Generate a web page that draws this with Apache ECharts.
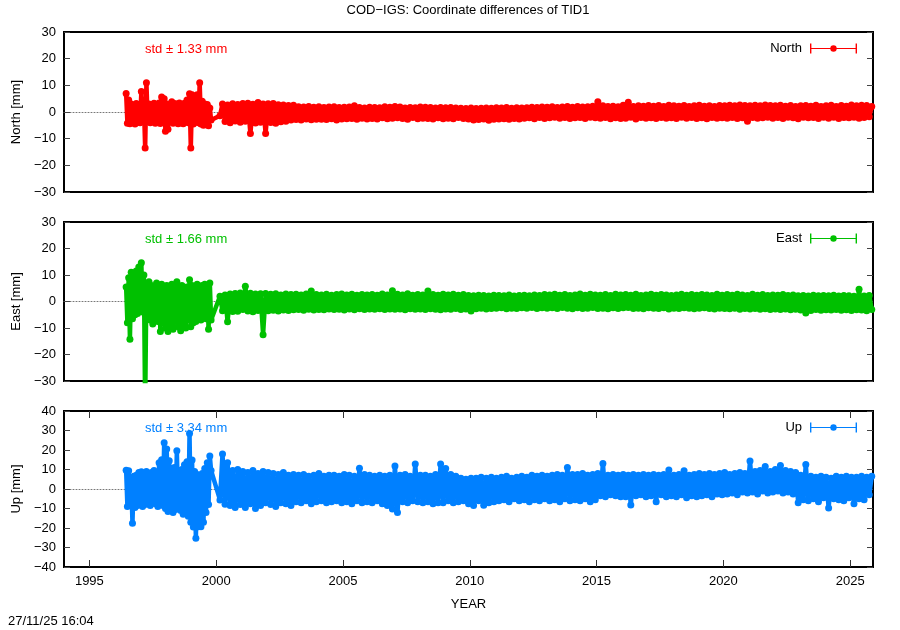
<!DOCTYPE html>
<html><head><meta charset="utf-8">
<script src="https://cdn.jsdelivr.net/npm/echarts@6/dist/echarts.min.js"></script>
<style>html,body{margin:0;padding:0;background:#fff}#c{width:900px;height:630px}</style>
</head><body><div id="c"></div><script>
// sampling epochs of the plotted series (decimal years)
const seg1Start = 1996.45, seg1Step = 0.05;   // 1996.45 .. 1999.80
const seg2Start = 2000.15, seg2Step = 0.1;    // 2000.15 .. 2025.85

const xTicks = [1995, 2000, 2005, 2010, 2015, 2020, 2025];
const yTicksNE = [-30, -20, -10, 0, 10, 20, 30];
const yTicksUp = [-40, -30, -20, -10, 0, 10, 20, 30, 40];
const seriesNames = ['North', 'East', 'Up'];
const stdTexts = ['std \u00b1 1.33 mm', 'std \u00b1 1.66 mm', 'std \u00b1 3.34 mm'];

const northEarly = [6.9,-4.2,4.5,-4.4,3.0,-3.5,2.5,-4.5,3.2,-3.9,
 2.8,-4.0,7.7,-3.2,3.0,-13.5,11.0,-3.5,3.0,-4.0,
 2.8,-2.8,3.3,-4.2,2.6,-3.0,3.4,-4.3,5.6,-3.6,
 5.0,-7.2,3.0,-6.5,2.5,-3.5,3.8,-4.2,3.2,-3.7,
 3.0,-4.4,3.4,-4.0,2.8,-4.4,3.3,-3.3,4.5,-4.0,
 6.8,-13.5,6.5,-4.5,5.5,-3.0,6.5,-4.0,11.0,-4.5,
 4.0,-5.0,3.0,-4.0,2.8,-5.2,1.5,-3.0];
const northLate = [
 -1.4,3.0,-3.6,2.6,-4.0,3.1,-3.4,2.8,-3.8,3.2,
 -3.5,3.3,-8.1,2.9,-4.1,3.6,-3.8,3.0,-8.1,3.1,
 -3.9,3.2,-4.2,2.7,-3.7,2.6,-3.5,2.4,-3.0,2.5,
 -2.8,2.0,-3.0,1.9,-2.6,2.1,-2.9,1.8,-2.7,2.0,
 -2.7,1.7,-2.8,1.9,-2.5,2.0,-3.0,1.7,-2.6,1.8,
 -2.5,1.9,-2.4,2.3,-2.7,1.7,-2.3,1.5,-2.6,1.8,
 -2.4,1.7,-2.6,1.6,-2.2,2.0,-2.5,1.8,-2.3,2.1,
 -2.2,1.9,-2.4,1.5,-2.7,1.7,-2.1,1.6,-2.5,1.9,
 -2.3,1.8,-2.4,1.7,-2.6,1.5,-2.2,1.7,-2.5,1.6,
 -2.3,1.7,-2.5,1.5,-2.1,1.4,-2.4,1.3,-2.6,1.5,
 -3.0,1.3,-2.8,1.4,-2.6,1.5,-3.1,1.4,-2.7,1.6,
 -2.6,1.5,-2.5,1.7,-2.7,1.4,-2.4,1.6,-2.6,1.5,
 -2.3,1.6,-2.2,1.8,-2.5,1.7,-2.1,1.9,-2.4,1.8,
 -2.2,2.0,-2.0,1.7,-2.3,1.9,-2.1,2.1,-2.4,1.8,
 -2.2,2.1,-2.1,1.9,-2.4,2.0,-2.0,2.2,-2.2,3.8,
 -2.3,2.3,-2.1,2.1,-2.5,2.2,-2.2,2.0,-2.4,2.5,
 -2.3,3.7,-2.0,2.1,-2.6,2.3,-2.1,2.2,-2.3,2.4,
 -2.2,2.2,-2.4,2.4,-2.1,2.1,-2.3,2.5,-2.2,2.3,
 -2.4,2.2,-2.0,2.4,-2.3,2.1,-2.1,2.3,-2.4,2.5,
 -2.2,2.2,-2.5,2.3,-2.1,2.1,-2.3,2.4,-2.2,2.3,
 -2.3,2.5,-2.1,2.3,-2.4,2.6,-2.2,2.4,-3.5,2.3,
 -2.1,2.5,-2.3,2.3,-2.2,2.6,-2.0,2.4,-2.3,2.3,
 -2.1,2.5,-2.4,2.2,-2.0,2.4,-2.2,2.1,-2.5,2.3,
 -2.0,2.4,-2.2,2.2,-2.1,2.5,-2.4,2.1,-2.0,2.3,
 -2.3,2.5,-2.0,2.1,-2.4,2.4,-2.1,2.2,-2.2,2.6,
 -2.0,2.3,-2.3,2.5,-2.1,2.4,-1.8,2.1];

const eastEarly = [5.5,-8.0,9.0,-14.2,11.0,-6.5,9.5,-5.0,11.5,-4.5,
 13.0,-3.0,14.6,-4.0,10.0,-40.0,6.0,-6.3,7.5,-7.0,
 6.0,-8.5,5.0,-6.0,7.0,-7.5,5.5,-11.3,6.5,-8.0,
 5.5,-10.0,6.0,-11.3,5.0,-9.0,6.5,-10.5,4.5,-7.5,
 7.5,-9.5,5.0,-11.0,6.0,-8.0,4.5,-10.0,5.5,-7.0,
 8.2,-9.5,6.0,-8.0,5.5,-7.5,6.5,-6.0,5.0,-7.0,
 6.0,-5.5,6.5,-6.5,6.0,-10.5,7.0,-7.0];
const eastLate = [
 2.0,-3.5,2.5,-7.6,2.8,-3.8,3.0,-3.7,3.2,-3.0,
 5.8,-3.6,3.1,-3.9,2.8,-3.4,2.9,-12.5,3.0,-3.5,
 2.7,-3.3,2.9,-3.6,2.5,-3.2,2.8,-3.4,2.6,-3.1,
 2.7,-3.0,2.5,-3.3,2.8,-2.9,4.0,-3.2,2.6,-3.0,
 2.5,-3.1,2.7,-2.8,2.4,-3.0,2.6,-2.9,2.8,-3.2,
 2.5,-2.8,2.7,-3.1,2.4,-2.7,2.6,-3.0,2.5,-2.8,
 2.6,-2.9,2.4,-2.7,2.8,-3.0,2.5,-2.8,4.1,-2.9,
 2.7,-2.8,2.5,-3.1,2.9,-2.7,2.4,-2.9,2.6,-2.8,
 2.5,-3.0,4.0,-2.7,2.6,-2.9,2.4,-3.1,2.7,-2.8,
 2.5,-2.9,2.7,-2.6,2.4,-3.0,2.6,-2.8,2.3,-3.6,
 2.2,-2.7,2.4,-2.5,2.3,-2.8,2.1,-2.6,2.4,-2.5,
 2.3,-2.4,2.2,-2.7,2.5,-2.5,2.1,-2.6,2.3,-2.4,
 2.4,-2.5,2.2,-2.3,2.5,-2.6,2.3,-2.4,2.6,-2.5,
 2.5,-2.4,2.7,-2.6,2.4,-2.3,2.6,-2.5,2.3,-2.7,
 2.5,-2.4,2.8,-2.6,2.4,-2.5,2.7,-2.3,2.5,-2.6,
 2.4,-2.5,2.6,-2.7,2.3,-2.4,2.7,-2.6,2.5,-2.4,
 2.6,-2.3,2.4,-2.6,2.7,-2.5,2.3,-2.7,2.5,-2.4,
 2.7,-2.5,2.4,-2.6,2.6,-2.4,2.5,-2.8,2.3,-2.5,
 2.5,-2.6,2.7,-2.4,2.4,-2.5,2.6,-2.7,2.4,-2.5,
 2.6,-2.4,2.5,-2.6,2.3,-2.8,2.7,-2.5,2.4,-2.6,
 2.6,-2.7,2.4,-2.5,2.7,-2.9,2.5,-2.6,2.3,-2.8,
 2.7,-2.6,2.4,-2.9,2.6,-2.7,2.3,-3.0,2.5,-2.8,
 2.4,-3.0,2.6,-2.8,2.3,-3.1,2.5,-2.9,2.2,-3.2,
 2.3,-4.3,2.1,-3.4,2.4,-3.0,2.2,-3.3,2.3,-3.1,
 2.2,-3.2,2.4,-3.0,2.1,-3.3,2.3,-3.1,2.2,-3.4,
 2.0,-3.1,4.6,-3.2,2.1,-3.5,2.3,-3.0];

const upEarly = [9.6,-9.0,9.3,-8.0,5.0,-17.6,6.5,-9.5,7.0,-8.5,
 8.5,-7.5,8.8,-9.0,7.5,-8.0,9.0,-7.0,8.0,-8.5,
 8.5,-6.5,9.5,-7.5,8.0,-9.0,13.5,-7.0,15.0,-8.5,
 23.7,-10.0,20.5,-11.5,14.5,-9.5,10.5,-12.0,11.0,-10.5,
 19.6,-9.0,9.5,-11.0,10.0,-13.0,12.5,-10.0,14.0,-14.0,
 28.5,-17.0,14.9,-19.5,9.0,-25.3,7.5,-19.3,6.0,-19.3,
 8.0,-17.0,10.5,-12.0,13.5,-8.0,16.9,9.5];
const upLate = [
 -5.6,18.0,-7.8,13.5,-8.5,9.5,-9.5,10.0,-8.0,9.0,
 -9.5,8.5,-7.5,9.5,-10.0,8.0,-8.5,9.0,-7.0,8.5,
 -8.0,8.0,-9.0,7.5,-7.0,8.5,-7.5,7.0,-8.5,7.5,
 -6.5,7.0,-7.0,7.5,-6.0,6.5,-7.5,7.0,-6.5,8.0,
 -6.0,6.5,-7.0,7.0,-6.5,7.0,-6.0,6.5,-7.0,7.5,
 -6.5,7.0,-7.5,6.5,-6.0,10.6,-7.0,7.5,-6.5,7.0,
 -7.0,6.5,-6.0,7.0,-7.5,6.5,-8.5,7.0,-10.3,11.8,
 -12.1,7.0,-6.5,7.5,-7.0,6.5,-6.0,12.8,-6.5,7.0,
 -7.0,7.0,-6.5,6.5,-7.5,7.5,-7.0,12.8,-7.0,10.5,
 -6.0,7.5,-7.0,6.5,-6.5,5.5,-6.0,5.0,-7.5,5.5,
 -8.5,5.5,-6.0,6.0,-8.3,5.5,-7.0,6.0,-6.5,5.5,
 -6.0,6.0,-5.5,6.5,-6.5,5.5,-5.0,6.0,-6.0,6.5,
 -5.5,6.0,-6.5,7.0,-5.5,6.5,-6.0,7.0,-5.0,6.5,
 -6.0,7.0,-5.5,7.5,-6.5,7.0,-5.0,11.0,-6.0,7.5,
 -5.5,7.5,-6.0,8.0,-5.0,7.0,-6.5,7.5,-5.5,8.0,
 -3.5,13.1,-4.0,7.0,-3.0,7.5,-3.5,7.0,-4.0,7.5,
 -4.0,7.0,-8.2,7.5,-3.5,7.0,-3.0,7.5,-4.0,7.0,
 -3.5,7.5,-6.5,7.0,-3.0,7.5,-4.0,9.7,-3.5,7.0,
 -4.0,7.5,-3.0,9.4,-4.5,7.0,-3.5,7.5,-4.0,8.0,
 -3.5,7.5,-3.0,8.0,-4.0,7.5,-2.5,8.0,-3.0,8.5,
 -2.5,7.5,-2.0,8.0,-3.0,8.5,-1.5,8.0,-2.0,14.4,
 -1.5,9.0,-2.5,9.5,-1.0,11.5,-2.0,9.0,-1.5,10.0,
 -1.0,12.0,-2.0,9.5,-1.5,9.0,-2.5,8.5,-7.0,7.0,
 -5.5,12.6,-6.0,6.5,-5.0,6.0,-6.5,6.5,-4.5,6.0,
 -9.8,5.5,-5.0,6.5,-5.5,6.0,-6.0,6.5,-4.5,6.0,
 -7.6,6.0,-5.0,6.5,-5.5,6.0,-3.0,6.5];

const colors = ['#ff0000', '#00c000', '#0080ff'];
const FONT = '"Liberation Sans", Arial, Helvetica, sans-serif';

function toPairs(early, late) {
  const out = [];
  early.forEach((v, i) => out.push([+(seg1Start + i * seg1Step).toFixed(3), v]));
  late.forEach((v, i) => out.push([+(seg2Start + i * seg2Step).toFixed(3), v]));
  return out;
}
const seriesData = [toPairs(northEarly, northLate), toPairs(eastEarly, eastLate), toPairs(upEarly, upLate)];

const grids = [
  {left: 64, right: 27, top: 32, height: 160},
  {left: 64, right: 27, top: 222, height: 159},
  {left: 64, right: 27, top: 411, height: 156}
];
const yTicks = [yTicksNE, yTicksNE, yTicksUp];
const minus = v => (v < 0 ? '\u2212' + (-v) : '' + v);

const xAxes = [], yAxes = [], series = [], legends = [], graphics = [];
const xMin = 1994, xMax = 2025.9;
grids.forEach((g, i) => {
  const isLast = i === 2;
  const mainX = xAxes.length;
  xAxes.push({
    gridIndex: i, type: 'value', min: xMin, max: xMax, position: 'bottom',
    axisLine: {show: false, onZero: false},
    splitLine: {show: false},
    axisTick: {show: isLast, inside: true, length: 7, customValues: xTicks, lineStyle: {color: '#333', width: 1}},
    axisLabel: {show: isLast, customValues: xTicks, margin: 8, fontSize: 13, color: '#000', fontFamily: FONT,
                formatter: v => String(v)},
    name: isLast ? 'YEAR' : '', nameLocation: 'middle', nameGap: 31,
    nameTextStyle: {fontSize: 13, color: '#000', fontFamily: FONT}
  });
  if (isLast) {
    xAxes.push({
      gridIndex: i, type: 'value', min: xMin, max: xMax, position: 'top',
      axisLine: {show: false, onZero: false}, splitLine: {show: false},
      axisTick: {show: true, inside: true, length: 7, customValues: xTicks, lineStyle: {color: '#333', width: 1}},
      axisLabel: {show: false}
    });
  }
  // dotted zero line
  xAxes.push({
    gridIndex: i, type: 'value', min: xMin, max: xMax, position: 'bottom',
    axisLine: {show: true, onZero: true, lineStyle: {color: '#777', type: [1, 2], width: 1}},
    axisTick: {show: false}, axisLabel: {show: false}, splitLine: {show: false}
  });
  const t = yTicks[i];
  const leftY = yAxes.length;
  const yBase = {
    gridIndex: i, type: 'value', min: t[0], max: t[t.length - 1], interval: 10,
    axisLine: {show: false, onZero: false}, splitLine: {show: false},
    axisTick: {show: true, inside: true, length: 6, lineStyle: {color: '#444', width: 1}}
  };
  yAxes.push(Object.assign({}, yBase, {
    position: 'left',
    axisLabel: {margin: 8, fontSize: 13, color: '#000', fontFamily: FONT, formatter: minus},
    name: seriesNames[i] + ' [mm]', nameLocation: 'middle', nameGap: 41,
    nameTextStyle: {fontSize: 13, color: '#000', fontFamily: FONT}
  }));
  yAxes.push(Object.assign({}, yBase, {position: 'right', axisLabel: {show: false}}));
  series.push({
    name: seriesNames[i], type: 'line', xAxisIndex: mainX, yAxisIndex: leftY,
    data: seriesData[i], symbol: 'circle', symbolSize: 7, showSymbol: true, showAllSymbol: true,
    lineStyle: {color: colors[i], width: 4.5}, itemStyle: {color: colors[i]},
    clip: true, silent: true, animation: false, z: 3
  });
  legends.push({
    data: [seriesNames[i]], right: 38, top: g.top + 5, align: 'right',
    itemWidth: 47, itemHeight: 10, itemGap: 0, selectedMode: false,
    icon: 'path://M0,0H1.4V10H0Z M45.6,0H47V10H45.6Z M0,4.4H47V5.6H0Z M20.3,5A3.2,3.2 0 1 1 26.7,5A3.2,3.2 0 1 1 20.3,5Z',
    itemStyle: {borderWidth: 0},
    textStyle: {fontSize: 13, color: '#000', fontFamily: FONT, padding: [0, 3, 0, 0]}
  });
  graphics.push({
    type: 'text', left: 145, top: g.top + 11,
    style: {text: stdTexts[i], fill: colors[i], font: '13px ' + FONT}
  });
});
graphics.push({type: 'text', x: 468, y: 4,
  style: {text: 'COD\u2212IGS: Coordinate differences of TID1', fill: '#000', font: '13px ' + FONT, textAlign: 'center'}});
graphics.push({type: 'text', left: 8, top: 615,
  style: {text: '27/11/25 16:04', fill: '#000', font: '13px ' + FONT}});

const chart = echarts.init(document.getElementById('c'), null, {renderer: 'canvas'});
chart.setOption({
  animation: false,
  backgroundColor: '#fff',
  grid: grids.map(g => Object.assign({show: true, borderColor: '#000', borderWidth: 2, backgroundColor: 'transparent'}, g)),
  xAxis: xAxes, yAxis: yAxes, series: series, legend: legends, graphic: graphics
});
</script></body></html>
